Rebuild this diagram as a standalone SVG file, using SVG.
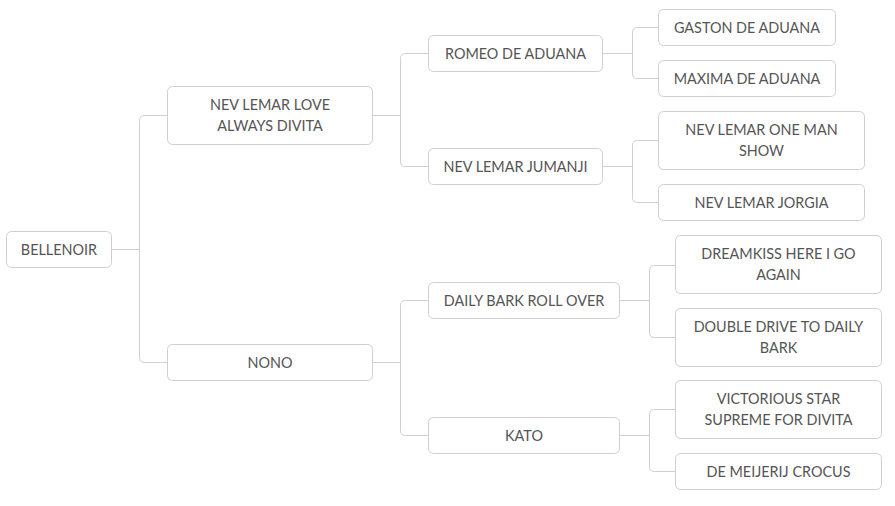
<svg xmlns="http://www.w3.org/2000/svg" width="895" height="506" viewBox="0 0 895 506">
<style>
.n rect{fill:#fff;stroke:#cfcfcf;stroke-width:1}
.n text{font-family:Lato,"Liberation Sans",sans-serif;font-size:14.4px;fill:#555;text-anchor:middle;dominant-baseline:central}
.c path{fill:none;stroke:#cfcfcf;stroke-width:1}
</style>
<rect width="895" height="506" fill="#fff"/>
<g class="c" id="connectors">
<path d="M111.5 249.5H139.5"/>
<path d="M167.5 115.5H144.5Q139.5 115.5 139.5 120.5V357.5Q139.5 362.5 144.5 362.5H167.5"/>
<path d="M372.5 115.5H400.5"/>
<path d="M428.5 53.5H405.5Q400.5 53.5 400.5 58.5V161.5Q400.5 166.5 405.5 166.5H428.5"/>
<path d="M372.5 362.5H400.5"/>
<path d="M428.5 300.5H405.5Q400.5 300.5 400.5 305.5V430.5Q400.5 435.5 405.5 435.5H428.5"/>
<path d="M602.5 53.5H632.5"/>
<path d="M658.5 27.5H637.5Q632.5 27.5 632.5 32.5V73.5Q632.5 78.5 637.5 78.5H658.5"/>
<path d="M602.5 166.5H632.5"/>
<path d="M658.5 140.5H637.5Q632.5 140.5 632.5 145.5V197.5Q632.5 202.5 637.5 202.5H658.5"/>
<path d="M619.5 300.5H649.5"/>
<path d="M675.5 265.5H654.5Q649.5 265.5 649.5 270.5V332.5Q649.5 337.5 654.5 337.5H675.5"/>
<path d="M619.5 435.5H649.5"/>
<path d="M675.5 409.5H654.5Q649.5 409.5 649.5 414.5V466.5Q649.5 471.5 654.5 471.5H675.5"/>
</g>
<g class="n" id="bellenoir"><rect x="6.5" y="231.5" width="105" height="36" rx="5"/><text x="59" y="249">BELLENOIR</text></g>
<g class="n" id="nev-lemar-love"><rect x="167.5" y="86.5" width="205" height="58" rx="5"/><text x="270" y="104">NEV LEMAR LOVE</text><text x="270" y="125">ALWAYS DIVITA</text></g>
<g class="n" id="nono"><rect x="167.5" y="344.5" width="205" height="36" rx="5"/><text x="270" y="362">NONO</text></g>
<g class="n" id="romeo"><rect x="428.5" y="35.5" width="174" height="36" rx="5"/><text x="515.5" y="53">ROMEO DE ADUANA</text></g>
<g class="n" id="jumanji"><rect x="428.5" y="148.5" width="174" height="36" rx="5"/><text x="515.5" y="166">NEV LEMAR JUMANJI</text></g>
<g class="n" id="daily-bark"><rect x="428.5" y="282.5" width="191" height="36" rx="5"/><text x="524" y="300">DAILY BARK ROLL OVER</text></g>
<g class="n" id="kato"><rect x="428.5" y="417.5" width="191" height="36" rx="5"/><text x="524" y="435">KATO</text></g>
<g class="n" id="gaston"><rect x="658.5" y="9.5" width="177" height="36" rx="5"/><text x="747" y="27">GASTON DE ADUANA</text></g>
<g class="n" id="maxima"><rect x="658.5" y="60.5" width="177" height="36" rx="5"/><text x="747" y="78">MAXIMA DE ADUANA</text></g>
<g class="n" id="one-man-show"><rect x="658.5" y="111.5" width="206" height="58" rx="5"/><text x="761.5" y="129">NEV LEMAR ONE MAN</text><text x="761.5" y="150">SHOW</text></g>
<g class="n" id="jorgia"><rect x="658.5" y="184.5" width="206" height="36" rx="5"/><text x="761.5" y="202">NEV LEMAR JORGIA</text></g>
<g class="n" id="dreamkiss"><rect x="675.5" y="235.5" width="206" height="58" rx="5"/><text x="778.5" y="253">DREAMKISS HERE I GO</text><text x="778.5" y="274">AGAIN</text></g>
<g class="n" id="double-drive"><rect x="675.5" y="308.5" width="206" height="58" rx="5"/><text x="778.5" y="326">DOUBLE DRIVE TO DAILY</text><text x="778.5" y="347">BARK</text></g>
<g class="n" id="victorious"><rect x="675.5" y="380.5" width="206" height="58" rx="5"/><text x="778.5" y="398">VICTORIOUS STAR</text><text x="778.5" y="419">SUPREME FOR DIVITA</text></g>
<g class="n" id="de-meijerij"><rect x="675.5" y="453.5" width="206" height="36" rx="5"/><text x="778.5" y="471">DE MEIJERIJ CROCUS</text></g>
</svg>
